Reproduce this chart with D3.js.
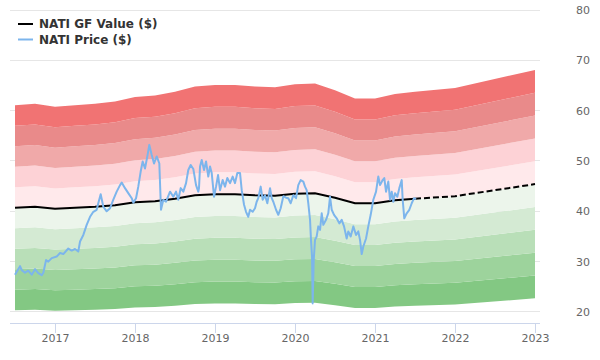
<!DOCTYPE html>
<html>
<head>
<meta charset="utf-8">
<script src="https://cdn.jsdelivr.net/npm/d3@7"></script>
<style>
  html, body { margin: 0; padding: 0; background: #fff; }
  svg { display: block; font-family: "DejaVu Sans", sans-serif; }
</style>
</head>
<body>
<svg id="chart" width="600" height="360"></svg>
<script>
// ---- data ----
const seriesNames = ["NATI GF Value ($)", "NATI Price ($)"];
const gfYears  = [2016.5, 2016.75, 2017.0, 2017.25, 2017.5, 2017.75, 2018.0, 2018.25, 2018.5, 2018.75, 2019.0, 2019.25, 2019.5, 2019.75, 2020.0, 2020.25, 2020.5, 2020.75, 2021.0, 2021.25, 2021.5, 2022.0, 2023.0];
const gfValues = [40.7, 40.9, 40.5, 40.7, 40.9, 41.2, 41.8, 42.0, 42.5, 43.2, 43.4, 43.4, 43.2, 43.1, 43.5, 43.6, 42.7, 41.6, 41.6, 42.2, 42.5, 43.0, 45.4];
const gfEstimateFrom = 2021.5; // dashed (estimated) part of the GF Value line
const bandMultipliers = [0.5, 0.6, 0.7, 0.8, 0.9, 1.0, 1.1, 1.2, 1.3, 1.4, 1.5];
const priceYears = [
  2016.500, 2016.563, 2016.584, 2016.625, 2016.666, 2016.709, 2016.750, 2016.791, 2016.834, 2016.854,
  2016.888, 2016.916, 2016.959, 2017.021, 2017.063, 2017.104, 2017.166, 2017.209, 2017.250, 2017.291,
  2017.313, 2017.354, 2017.396, 2017.438, 2017.479, 2017.521, 2017.541, 2017.571, 2017.604, 2017.646,
  2017.688, 2017.729, 2017.771, 2017.813, 2017.834, 2017.875, 2017.916, 2017.959, 2017.979, 2018.013,
  2018.041, 2018.071, 2018.096, 2018.125, 2018.154, 2018.179, 2018.209, 2018.238, 2018.271, 2018.304,
  2018.325, 2018.354, 2018.388, 2018.438, 2018.479, 2018.513, 2018.541, 2018.571, 2018.604, 2018.638,
  2018.666, 2018.696, 2018.729, 2018.763, 2018.791, 2018.800, 2018.813, 2018.834, 2018.863, 2018.888,
  2018.916, 2018.938, 2018.959, 2018.988, 2019.013, 2019.038, 2019.063, 2019.096, 2019.125, 2019.154,
  2019.188, 2019.221, 2019.250, 2019.279, 2019.313, 2019.334, 2019.363, 2019.388, 2019.416, 2019.438,
  2019.471, 2019.500, 2019.521, 2019.541, 2019.571, 2019.596, 2019.625, 2019.654, 2019.688, 2019.709,
  2019.729, 2019.763, 2019.791, 2019.821, 2019.854, 2019.888, 2019.916, 2019.946, 2019.979, 2020.013,
  2020.041, 2020.071, 2020.104, 2020.125, 2020.146, 2020.166, 2020.188, 2020.200, 2020.213, 2020.221,
  2020.234, 2020.250, 2020.271, 2020.291, 2020.313, 2020.334, 2020.354, 2020.388, 2020.416, 2020.438,
  2020.459, 2020.488, 2020.521, 2020.554, 2020.584, 2020.613, 2020.646, 2020.666, 2020.696, 2020.729,
  2020.763, 2020.791, 2020.813, 2020.834, 2020.854, 2020.888, 2020.916, 2020.946, 2020.979, 2021.013,
  2021.041, 2021.063, 2021.096, 2021.116, 2021.138, 2021.166, 2021.188, 2021.209, 2021.229, 2021.250,
  2021.279, 2021.304, 2021.334, 2021.346, 2021.366, 2021.396, 2021.429, 2021.459, 2021.488, 2021.513
];
const priceValues = [
  27.4, 29.1, 28.3, 27.8, 28.2, 27.4, 28.5, 27.7, 27.3, 27.8,
  30.3, 30.0, 30.7, 31.0, 31.7, 31.5, 32.6, 32.2, 32.5, 32.0,
  34.0, 35.3, 37.3, 38.9, 39.9, 40.3, 41.6, 43.4, 40.9, 40.0,
  40.6, 42.3, 43.9, 45.2, 45.7, 44.6, 43.6, 42.6, 41.7, 42.6,
  44.9, 47.9, 49.9, 48.5, 50.9, 53.2, 51.2, 49.5, 50.9, 49.5,
  40.3, 42.3, 41.9, 43.9, 42.9, 43.9, 42.3, 44.6, 43.9, 45.6,
  48.2, 49.2, 48.4, 45.2, 43.9, 44.6, 48.9, 50.2, 48.2, 49.9,
  46.9, 48.9, 47.6, 42.9, 44.9, 47.2, 44.2, 46.2, 44.9, 46.6,
  45.6, 46.9, 45.6, 47.6, 47.6, 44.2, 41.3, 39.9, 38.9, 40.3,
  39.9, 40.6, 41.9, 42.6, 44.9, 42.3, 43.2, 41.6, 44.6, 42.6,
  41.9, 40.3, 39.3, 40.6, 43.0, 42.7, 42.6, 41.6, 43.2, 42.6,
  45.2, 46.2, 45.9, 44.9, 44.2, 41.6, 38.3, 34.3, 31.0, 21.7,
  30.3, 34.3, 35.0, 37.0, 36.3, 39.6, 37.3, 38.3, 39.6, 42.9,
  40.3, 39.3, 38.6, 37.6, 38.3, 37.0, 34.6, 36.0, 35.0, 37.0,
  35.3, 36.0, 34.3, 31.5, 33.0, 34.6, 37.0, 39.3, 42.3, 43.9,
  46.9, 45.2, 46.2, 46.6, 43.9, 45.9, 42.3, 43.9, 41.9, 43.6,
  42.9, 44.6, 46.2, 42.3, 38.6, 39.6, 40.3, 41.6, 42.6, 42.4
];
const xTickYears = [2017, 2018, 2019, 2020, 2021, 2022, 2023];
const yTickValues = [20, 30, 40, 50, 60, 70, 80];
const bandColors = ["#83c883", "#9dd39c", "#b9dfb8", "#d4ead3", "#ecf5eb",
                    "#ffe9eb", "#fdd2d6", "#f0a9a9", "#e98a8a", "#f17373"];

// ---- layout ----
const svg = d3.select("#chart");
const plotLeft = 10, plotRight = 540, plotTop = 10, plotBottom = 323;
const x = d3.scaleLinear().domain([2016.4375, 2023.0625]).range([plotLeft, plotRight]);
const y = d3.scaleLinear().domain([17.8, 80]).range([plotBottom, plotTop]);

// gridlines
svg.append("g").selectAll("line").data(yTickValues).join("line")
  .attr("x1", plotLeft).attr("x2", plotRight)
  .attr("y1", d => y(d)).attr("y2", d => y(d))
  .attr("stroke", "#e6e6e6").attr("stroke-width", 1).attr("shape-rendering", "crispEdges");

// bands
const gfData = gfYears.map((yr, i) => ({ yr, v: gfValues[i] }));
const bandG = svg.append("g");
for (let b = 0; b < bandMultipliers.length - 1; b++) {
  const lo = bandMultipliers[b], hi = bandMultipliers[b + 1];
  const area = d3.area()
    .x(d => x(d.yr))
    .y0(d => y(d.v * lo))
    .y1(d => y(d.v * hi));
  bandG.append("path").datum(gfData).attr("d", area).attr("fill", bandColors[b]);
}

// x axis
const xAxis = d3.axisBottom(x).tickValues(xTickYears).tickFormat(d3.format("d")).tickSize(10).tickSizeOuter(0);
const xg = svg.append("g").attr("transform", `translate(0,${plotBottom})`).call(xAxis);
xg.select(".domain").attr("stroke", "#ccd6eb").attr("d", `M${plotLeft},0.5H${plotRight}`);
xg.selectAll(".tick line").attr("stroke", "#ccd6eb");
xg.selectAll(".tick text").attr("fill", "#666").attr("font-size", "11px").attr("dy", "0.71em").attr("y", 11)
  .attr("font-family", "DejaVu Sans, sans-serif");

// y axis (right, labels only)
const yAxis = d3.axisRight(y).tickValues(yTickValues).tickSize(0);
const yg = svg.append("g").attr("transform", `translate(576,0)`).call(yAxis);
yg.select(".domain").remove();
yg.selectAll(".tick text").attr("fill", "#666").attr("font-size", "11px").attr("x", 0)
  .attr("font-family", "DejaVu Sans, sans-serif");

// GF value line (solid, then dashed)
const line = d3.line().x(d => x(d.yr)).y(d => y(d.v));
const solid = gfData.filter(d => d.yr <= gfEstimateFrom);
const dashed = gfData.filter(d => d.yr >= gfEstimateFrom);
svg.append("path").datum(solid).attr("d", line).attr("fill", "none").attr("stroke", "#000").attr("stroke-width", 2);
svg.append("path").datum(dashed).attr("d", line).attr("fill", "none").attr("stroke", "#000").attr("stroke-width", 2)
  .attr("stroke-dasharray", "6,3");

// price line
const priceData = priceYears.map((yr, i) => ({ yr, v: priceValues[i] }));
svg.append("path").datum(priceData).attr("d", line).attr("fill", "none")
  .attr("stroke", "#7cb5ec").attr("stroke-width", 2).attr("stroke-linejoin", "round");

// legend
const legendColors = ["#000", "#7cb5ec"];
const lg = svg.append("g");
seriesNames.forEach((name, i) => {
  const ly = 24 + i * 15.5;
  lg.append("line").attr("x1", 18).attr("x2", 33).attr("y1", ly).attr("y2", ly)
    .attr("stroke", legendColors[i]).attr("stroke-width", 2);
  lg.append("text").attr("x", 39).attr("y", ly).attr("dy", "0.35em")
    .attr("font-size", "12px").attr("font-weight", "bold").attr("fill", "#333").text(name);
});
</script>
</body>
</html>
